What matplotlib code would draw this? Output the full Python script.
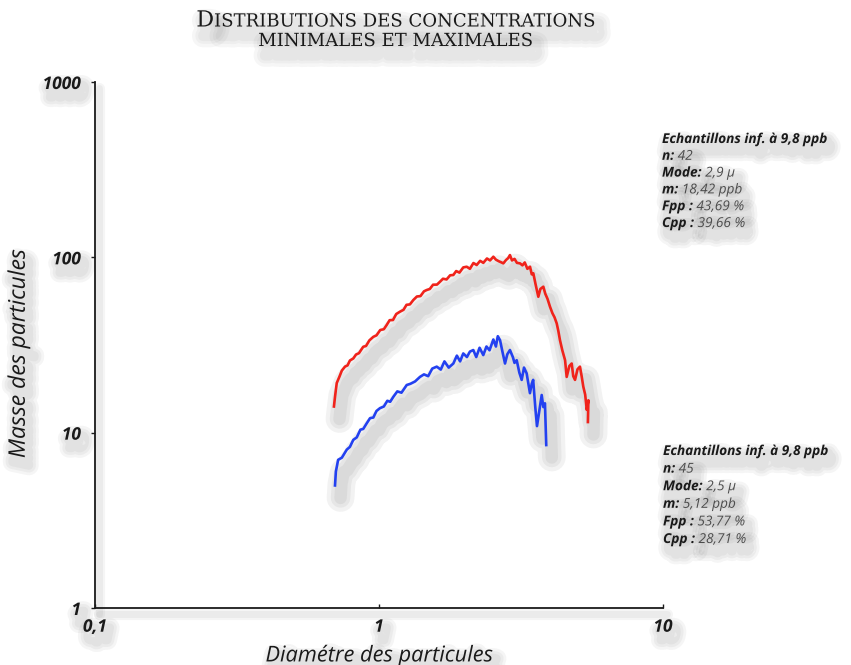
import matplotlib
matplotlib.use("Agg")
import matplotlib.pyplot as plt
import matplotlib.patheffects as pe
from matplotlib.ticker import FixedLocator, FixedFormatter, NullLocator

# Courbe des concentrations maximales (rouge)
diam_max = [0.694, 0.700, 0.710, 0.725, 0.740, 0.759, 0.775, 0.790, 0.812, 0.830,
            0.850, 0.880, 0.900, 0.925, 0.955, 0.980, 1.010, 1.040, 1.064, 1.090,
            1.120, 1.150, 1.186, 1.220, 1.250, 1.285, 1.321, 1.360, 1.400, 1.440,
            1.472, 1.510, 1.550, 1.600, 1.640, 1.680, 1.730, 1.780, 1.827, 1.870,
            1.920, 1.980, 2.036, 2.090, 2.150, 2.208, 2.270, 2.330, 2.400, 2.460,
            2.527, 2.580, 2.640, 2.700, 2.740, 2.800, 2.850, 2.891, 2.940, 3.000,
            3.060, 3.137, 3.200, 3.260, 3.330, 3.402, 3.450, 3.494, 3.560, 3.639,
            3.700, 3.789, 3.850, 3.920, 4.000, 4.080, 4.150, 4.224, 4.280, 4.337,
            4.420, 4.520, 4.580, 4.680, 4.770, 4.830, 4.900, 5.000, 5.100, 5.170,
            5.240, 5.320, 5.390, 5.460, 5.440]
masse_max = [14.1, 16.0, 19.2, 20.8, 22.6, 23.8, 24.2, 25.8, 26.5, 27.9,
             28.4, 30.9, 31.2, 33.6, 35.2, 35.9, 38.5, 38.9, 41.1, 43.8,
             43.9, 47.5, 49.0, 50.2, 53.6, 53.9, 57.1, 59.8, 60.1, 64.0,
             65.1, 66.0, 69.8, 69.9, 72.6, 75.5, 74.8, 79.0, 79.3, 83.5,
             81.8, 87.6, 88.4, 86.0, 92.8, 90.4, 95.5, 93.0, 98.5, 96.0,
             100.8, 97.0, 95.0, 93.5, 92.4, 96.5, 99.0, 103.0, 96.0, 98.0,
             93.0, 92.4, 90.0, 93.5, 86.0, 88.4, 80.0, 81.1, 70.0, 59.6,
             66.0, 68.0, 62.0, 58.0, 52.3, 48.0, 45.5, 42.0, 38.0, 33.7,
             29.5, 25.9, 20.8, 24.0, 24.8, 21.0, 20.0, 23.0, 23.8, 21.0,
             18.3, 16.5, 13.5, 15.3, 11.5]

# Courbe des concentrations minimales (bleu)
diam_min = [0.700, 0.705, 0.718, 0.740, 0.770, 0.790, 0.812, 0.835, 0.860, 0.880,
            0.905, 0.930, 0.955, 0.980, 1.008, 1.040, 1.070, 1.095, 1.123, 1.160,
            1.200, 1.252, 1.290, 1.340, 1.394, 1.440, 1.490, 1.540, 1.597, 1.650,
            1.700, 1.760, 1.827, 1.880, 1.930, 1.980, 2.040, 2.090, 2.148, 2.200,
            2.260, 2.329, 2.390, 2.450, 2.527, 2.580, 2.620, 2.668, 2.720, 2.778,
            2.830, 2.891, 2.960, 3.000, 3.054, 3.120, 3.180, 3.240, 3.310, 3.400,
            3.450, 3.490, 3.550, 3.600, 3.660, 3.740, 3.790, 3.840, 3.880]
masse_min = [5.0, 6.0, 7.0, 7.2, 8.0, 8.3, 9.1, 9.4, 10.4, 10.5,
             11.3, 12.1, 12.2, 13.3, 13.8, 14.1, 15.2, 15.0, 16.0, 17.2,
             16.9, 18.7, 19.0, 19.6, 20.8, 21.5, 21.0, 23.2, 23.8, 22.9,
             25.5, 23.5, 24.8, 27.5, 25.5, 28.3, 27.0, 29.0, 29.6, 27.0,
             30.5, 27.7, 31.0, 29.5, 34.0, 31.0, 35.5, 33.7, 29.0, 24.8,
             28.0, 29.6, 27.0, 25.0, 25.9, 22.0, 20.0, 23.5, 21.8, 16.8,
             19.0, 20.0, 14.0, 10.9, 13.0, 16.4, 14.0, 14.7, 8.5]

x_ticks = [0.1, 1, 10]
x_tick_labels = ["0,1", "1", "10"]
y_ticks = [1, 10, 100, 1000]
y_tick_labels = ["1", "10", "100", "1000"]

stats_max = [("Echantillons inf. à 9,8 ppb", ""), ("n:", "42"), ("Mode:", "2,9 µ"),
             ("m:", "18,42 ppb"), ("Fpp :", "43,69 %"), ("Cpp :", "39,66 %")]
stats_min = [("Echantillons inf. à 9,8 ppb", ""), ("n:", "45"), ("Mode:", "2,5 µ"),
             ("m:", "5,12 ppb"), ("Fpp :", "53,77 %"), ("Cpp :", "28,71 %")]

SANS = "Open Sans"
SERIF = "DejaVu Serif"


class OmbreFloue(pe.AbstractPathEffect):
    """Ombre portée floue : traits gris superposés, sans remplissage."""

    def __init__(self, offset=(3, -6), widths=(12, 8, 5), alpha=0.05, color="#404040"):
        super().__init__(offset)
        self.widths = widths
        self.alpha = alpha
        self.color = color

    def draw_path(self, renderer, gc, tpath, affine, rgbFace=None):
        for w in self.widths:
            gc0 = renderer.new_gc()
            gc0.copy_properties(gc)
            gc0.set_linewidth(w)
            gc0.set_foreground(self.color)
            gc0.set_alpha(self.alpha)
            gc0.set_joinstyle("round")
            gc0.set_capstyle("round")
            renderer.draw_path(gc0, tpath, affine + self._offset_transform(renderer), None)
            gc0.restore()


def ombre(dx=3, dy=-6, widths=(12, 8, 5), alpha=0.05):
    return [OmbreFloue((dx, dy), widths, alpha), pe.Normal()]


ombre_texte = ombre(3, -6, (14, 10, 6), 0.05)

fig = plt.figure(figsize=(8.51, 6.65), dpi=100)
ax = fig.add_axes([0.1116, 0.0857, 0.6675, 0.791])

ax.plot(diam_max, masse_max, color="#f0231b", lw=1.9,
        path_effects=ombre(4, -9, (20, 14, 9), 0.065))
ax.plot(diam_min, masse_min, color="#2341f0", lw=1.9,
        path_effects=ombre(4, -9, (20, 14, 9), 0.065))

ax.set_xscale("log")
ax.set_yscale("log")
ax.set_xlim(0.1, 10)
ax.set_ylim(1, 1000)

ax.xaxis.set_major_locator(FixedLocator(x_ticks))
ax.xaxis.set_major_formatter(FixedFormatter(x_tick_labels))
ax.yaxis.set_major_locator(FixedLocator(y_ticks))
ax.yaxis.set_major_formatter(FixedFormatter(y_tick_labels))
ax.xaxis.set_minor_locator(NullLocator())
ax.yaxis.set_minor_locator(NullLocator())

for side in ("top", "right"):
    ax.spines[side].set_visible(False)
for side in ("left", "bottom"):
    ax.spines[side].set_linewidth(1.3)
    ax.spines[side].set_color("#1a1a1a")
    ax.spines[side].set_path_effects(ombre(3, -4, (8, 5), 0.05))

ax.tick_params(axis="x", direction="in", length=3, width=1, pad=7, colors="#1a1a1a")
ax.tick_params(axis="y", direction="out", length=3, width=1, pad=7, colors="#1a1a1a")

for lbl in ax.get_xticklabels() + ax.get_yticklabels():
    lbl.set_fontfamily(SANS)
    lbl.set_fontsize(12.5)
    lbl.set_fontweight("bold")
    lbl.set_fontstyle("italic")
    lbl.set_path_effects(ombre_texte)

ax.set_xlabel("Diamétre des particules", family=SANS, style="italic", fontsize=15.7,
              color="#1a1a1a", labelpad=7, path_effects=ombre_texte)
ax.set_ylabel("Masse des particules", family=SANS, style="italic", fontsize=16.5,
              color="#1a1a1a", path_effects=ombre_texte)
ax.yaxis.set_label_coords(-0.113, 0.483)

# Titre en petites capitales
renderer = fig.canvas.get_renderer()
W = fig.bbox.width


def ligne_titre(y, morceaux, cx=0.464):
    textes = []
    for txt, size in morceaux:
        t = fig.text(0, y, txt, family=SERIF, fontsize=size, va="baseline",
                     color="#1a1a1a", path_effects=ombre(4, -7, (16, 11, 7), 0.045))
        textes.append(t)
    largeurs = [t.get_window_extent(renderer).width / W for t in textes]
    x = cx - sum(largeurs) / 2
    for t, w in zip(textes, largeurs):
        t.set_x(x)
        x += w


ligne_titre(1 - 26.5 / 665, [("D", 16), ("ISTRIBUTIONS DES CONCENTRATIONS", 13)])
ligne_titre(1 - 46 / 665, [("MINIMALES ET MAXIMALES", 13)])


# Encadrés statistiques
def bloc(x, y0, dy, lignes):
    for i, (cle, val) in enumerate(lignes):
        y = 1 - (y0 + i * dy) / 665
        t = fig.text(x, y, cle, family=SANS, style="italic", weight="bold", fontsize=9.8,
                     va="baseline", color="#1a1a1a", path_effects=ombre_texte)
        if val:
            ax.annotate(" " + val, xy=(1, y), xycoords=(t, "figure fraction"),
                        family=SANS, style="italic", fontsize=9.8, va="baseline",
                        ha="left", color="#4d4d4d", annotation_clip=False,
                        path_effects=ombre_texte)


bloc(662 / 851, 143, 16.8, stats_max)
bloc(663 / 851, 455, 17.6, stats_min)

fig.savefig("out.png", dpi=100, facecolor="white")
